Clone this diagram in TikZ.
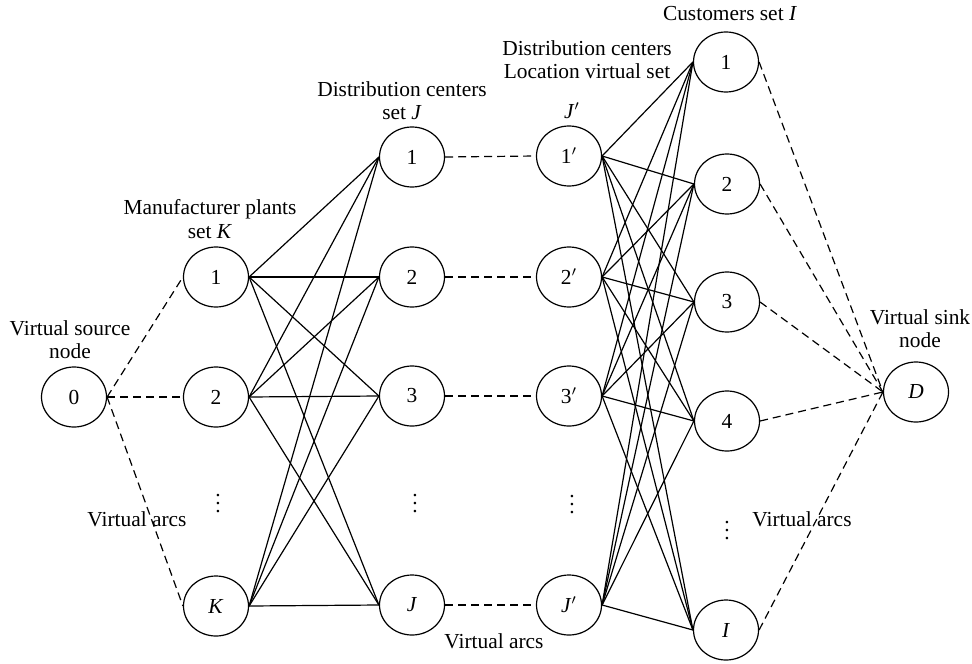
\documentclass[tikz,border=0pt]{standalone}
\usepackage{fontspec}
\setmainfont{Liberation Serif}
\usetikzlibrary{shapes.geometric}
\tikzset{
    every picture/.style={line width=0.6pt},
    % node styles
    vnode/.style={ellipse,draw,minimum width=32.5pt,minimum height=30pt,inner sep=0pt,font=\fontsize{10.7}{12}\selectfont},
    caption/.style={align=center,font=\fontsize{10.7}{11.6}\selectfont,inner sep=0pt},
    % arc styles
    link/.style={draw},
    virtual/.style={draw,dash pattern=on 4pt off 2.5pt}
}

\begin{document}
\begin{tikzpicture}[x=0.5pt,y=-0.5pt]
  \useasboundingbox (0,0) rectangle (972,663);

  % source and manufacturer plants
  \node[vnode] (src) at (74,397) {0};
  \node[vnode] (k1) at (216,277) {1};
  \node[vnode] (k2) at (216,397) {2};
  \node[vnode] (kK) at (216,606) {\textit{K}};

  % distribution centers
  \node[vnode] (j1) at (412,157) {1};
  \node[vnode] (j2) at (412,277) {2};
  \node[vnode] (j3) at (412,396) {3};
  \node[vnode] (jJ) at (412,605) {\textit{J}};

  % location virtual set
  \node[vnode] (v1) at (569,156) {1$'$};
  \node[vnode] (v2) at (569,277) {2$'$};
  \node[vnode] (v3) at (569,396) {3$'$};
  \node[vnode] (vJ) at (569,605) {\textit{J}$'$};

  % customers and sink
  \node[vnode] (c1) at (726,62) {1};
  \node[vnode] (c2) at (727,184) {2};
  \node[vnode] (c3) at (727,302) {3};
  \node[vnode] (c4) at (727,421) {4};
  \node[vnode] (cI) at (726,630) {\textit{I}};
  \node[vnode] (snk) at (916,392) {\textit{D}};

  % vertical dots
  \node[caption] (dk) at (218,498) {$\vdots$};
  \node[caption] (dj) at (415,498) {$\vdots$};
  \node[caption] (dv) at (572,499) {$\vdots$};
  \node[caption] (dc) at (727,525) {$\vdots$};

  % set labels
  \node[caption] (lsrc) at (70,340) {Virtual source\\node};
  \node[caption] (lk) at (210,219) {Manufacturer plants\\set \textit{K}};
  \node[caption] (lj) at (402,101) {Distribution centers\\set \textit{J}};
  \node[caption] (lv) at (587,60) {Distribution centers\\Location virtual set};
  \node[caption] (lvJ) at (572,111) {\textit{J}$'$};
  \node[caption] (lc) at (730,14) {Customers set \textit{I}};
  \node[caption] (lsnk) at (920,329) {Virtual sink\\node};
  \node[caption] (la1) at (137,519) {Virtual arcs};
  \node[caption] (la2) at (494,641) {Virtual arcs};
  \node[caption] (la3) at (802,519) {Virtual arcs};

  % virtual arcs
  \foreach \k in {k1,k2,kK} \draw[virtual] (src.east) -- (\k.west);
  \foreach \j/\v in {j1/v1,j2/v2,j3/v3,jJ/vJ} \draw[virtual] (\j.east) -- (\v.west);
  \foreach \c in {c1,c2,c3,c4,cI} \draw[virtual] (\c.east) -- (snk.west);

  % real arcs
  \foreach \k in {k1,k2,kK}
    \foreach \j in {j1,j2,j3,jJ} \draw[link] (\k.east) -- (\j.west);
  \foreach \v in {v1,v2,v3,vJ}
    \foreach \c in {c1,c2,c3,c4,cI} \draw[link] (\v.east) -- (\c.west);
\end{tikzpicture}
\end{document}
